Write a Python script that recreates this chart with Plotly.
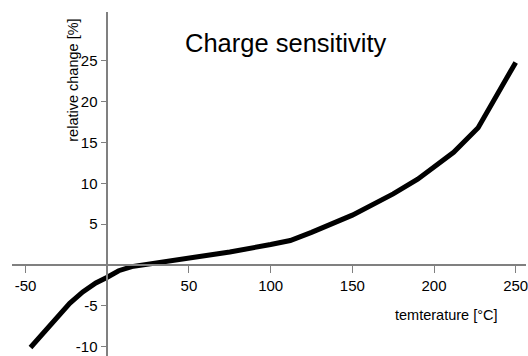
import plotly.graph_objects as go

# Relative change of charge sensitivity versus temperature
temperature = [-47, -33, -23, -15, -7, 0, 7, 15, 25, 50, 75, 100, 112, 125, 150, 175, 190, 200, 212, 227, 250]
rel_change = [-10.1, -6.9, -4.7, -3.3, -2.2, -1.5, -0.7, -0.2, 0.1, 0.8, 1.6, 2.5, 3.0, 4.0, 6.1, 8.7, 10.5, 12.0, 13.8, 16.8, 24.8]

x_ticks = [-50, 50, 100, 150, 200, 250]
y_ticks = [-10, -5, 5, 10, 15, 20, 25]

W, H = 528, 356
FONT = "Liberation Sans, Arial, sans-serif"
AXIS_COLOR = "#808080"

x_range = [-58.35, 256.3]
y_range = [-11.14, 30.97]
x_domain = [12 / W, 1.0]
y_domain = [0.0, 1 - 12 / H]

# place each axis line where the other axis crosses zero
x_axis_pos = y_domain[0] + (0 - y_range[0]) / (y_range[1] - y_range[0]) * (y_domain[1] - y_domain[0])
y_axis_pos = x_domain[0] + (0 - x_range[0]) / (x_range[1] - x_range[0]) * (x_domain[1] - x_domain[0])

fig = go.Figure()
fig.add_trace(go.Scatter(
    x=temperature, y=rel_change, mode="lines",
    line=dict(color="black", width=5),
    showlegend=False, hoverinfo="skip",
))

fig.update_layout(
    width=W, height=H,
    margin=dict(l=0, r=0, t=0, b=0),
    paper_bgcolor="white", plot_bgcolor="white",
    font=dict(family=FONT, size=15, color="black"),
    xaxis=dict(
        range=x_range, domain=x_domain,
        anchor="free", position=x_axis_pos,
        showgrid=False, zeroline=False,
        showline=True, linecolor=AXIS_COLOR, linewidth=1.5,
        ticks="outside", ticklen=7, tickwidth=1.2, tickcolor=AXIS_COLOR,
        tickvals=x_ticks, ticktext=[str(v) for v in x_ticks],
        tickfont=dict(size=15, color="black", family=FONT),
        ticklabeloverflow="allow",
    ),
    yaxis=dict(
        range=y_range, domain=y_domain,
        anchor="free", position=y_axis_pos,
        showgrid=False, zeroline=False,
        showline=True, linecolor=AXIS_COLOR, linewidth=1.5,
        ticks="outside", ticklen=6, tickwidth=1.2, tickcolor=AXIS_COLOR,
        tickvals=y_ticks, ticktext=[str(v) for v in y_ticks],
        tickfont=dict(size=15, color="black", family=FONT),
        ticklabeloverflow="allow",
    ),
    annotations=[
        dict(text="Charge sensitivity", xref="paper", yref="paper",
             x=287 / W, y=1 - 43 / H, xanchor="center", yanchor="middle",
             showarrow=False, font=dict(size=25.5, family=FONT, color="black")),
        dict(text="temterature [°C]", xref="paper", yref="paper",
             x=448 / W, y=1 - 315 / H, xanchor="center", yanchor="middle",
             showarrow=False, font=dict(size=14.5, family=FONT, color="black")),
        dict(text="relative change [%]", xref="paper", yref="paper",
             x=73 / W, y=1 - 80 / H, xanchor="center", yanchor="middle",
             textangle=-90,
             showarrow=False, font=dict(size=14.5, family=FONT, color="black")),
    ],
)

fig.write_html("out.html")
